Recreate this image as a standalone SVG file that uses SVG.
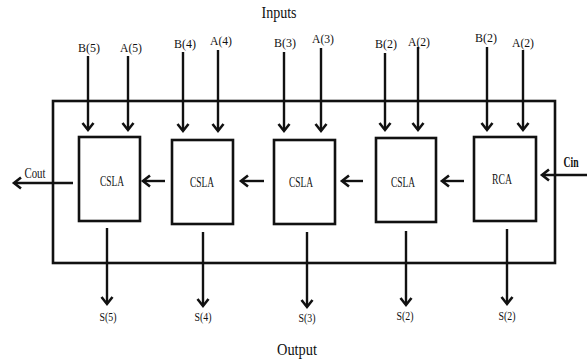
<svg xmlns="http://www.w3.org/2000/svg" width="587" height="362" viewBox="0 0 587 362">
<style>
text{font-family:"Liberation Serif","Times New Roman",serif;fill:#111;text-anchor:middle}
.lbl{font-size:13px}
.blk{font-size:14px}
.out{font-size:12px}
.ttl{font-size:16px}
.box{fill:#fff;stroke:#111;stroke-width:2.6}
.arr{stroke:#111;stroke-width:2.4;fill:none;marker-end:url(#ah)}
</style>
<defs>
<marker id="ah" markerUnits="userSpaceOnUse" viewBox="-10 -8 12 16" refX="0" refY="0" markerWidth="12" markerHeight="16" orient="auto" overflow="visible">
<path d="M-7,-5.5 L0,0 L-7,5.5" fill="none" stroke="#111" stroke-width="2.6"/>
</marker>
</defs>
<rect width="587" height="362" fill="#fff"/>
<text class="ttl" x="279" y="18" textLength="35" lengthAdjust="spacingAndGlyphs">Inputs</text>
<text class="ttl" x="297" y="355" textLength="40" lengthAdjust="spacingAndGlyphs">Output</text>
<g id="frame"><rect x="53" y="101" width="502" height="162" fill="none" stroke="#111" stroke-width="2.6"/></g>
<g id="connectors">
<line class="arr" x1="88" y1="56" x2="88" y2="130"/>
<line class="arr" x1="128" y1="56" x2="128" y2="130"/>
<line class="arr" x1="183" y1="52" x2="183" y2="131"/>
<line class="arr" x1="218" y1="50" x2="218" y2="131"/>
<line class="arr" x1="284" y1="52" x2="284" y2="131"/>
<line class="arr" x1="321" y1="48" x2="321" y2="131"/>
<line class="arr" x1="385" y1="53" x2="385" y2="130"/>
<line class="arr" x1="418" y1="47" x2="418" y2="130"/>
<line class="arr" x1="487" y1="47" x2="487" y2="130"/>
<line class="arr" x1="523" y1="50" x2="523" y2="130"/>
<line class="arr" x1="587" y1="175" x2="542" y2="175"/>
<line class="arr" x1="464" y1="181" x2="442" y2="181"/>
<line class="arr" x1="363" y1="181" x2="342" y2="181"/>
<line class="arr" x1="264" y1="181" x2="241" y2="181"/>
<line class="arr" x1="165" y1="181" x2="143" y2="181"/>
<line class="arr" x1="73" y1="183" x2="14" y2="183"/>
<line class="arr" x1="107" y1="228" x2="107" y2="304"/>
<line class="arr" x1="203" y1="232" x2="203" y2="306"/>
<line class="arr" x1="307" y1="232" x2="307" y2="307"/>
<line class="arr" x1="406" y1="231" x2="406" y2="305"/>
<line class="arr" x1="507" y1="229" x2="507" y2="304"/>
</g>
<g id="labels-in">
<text class="lbl" x="89" y="52" textLength="22" lengthAdjust="spacingAndGlyphs">B(5)</text>
<text class="lbl" x="131" y="52" textLength="22" lengthAdjust="spacingAndGlyphs">A(5)</text>
<text class="lbl" x="185" y="48" textLength="22" lengthAdjust="spacingAndGlyphs">B(4)</text>
<text class="lbl" x="221" y="45" textLength="22" lengthAdjust="spacingAndGlyphs">A(4)</text>
<text class="lbl" x="285" y="47" textLength="22" lengthAdjust="spacingAndGlyphs">B(3)</text>
<text class="lbl" x="323" y="43" textLength="22" lengthAdjust="spacingAndGlyphs">A(3)</text>
<text class="lbl" x="386" y="48" textLength="22" lengthAdjust="spacingAndGlyphs">B(2)</text>
<text class="lbl" x="419" y="46" textLength="22" lengthAdjust="spacingAndGlyphs">A(2)</text>
<text class="lbl" x="486" y="42" textLength="22" lengthAdjust="spacingAndGlyphs">B(2)</text>
<text class="lbl" x="523" y="47" textLength="22" lengthAdjust="spacingAndGlyphs">A(2)</text>
<text x="35" y="178" style="font-size:14px" textLength="21" lengthAdjust="spacingAndGlyphs">Cout</text>
<text x="571" y="167" style="font-size:15px;font-weight:bold" textLength="15" lengthAdjust="spacingAndGlyphs">Cin</text>
</g>
<g id="csla5"><rect class="box" x="79" y="137" width="61" height="84"/><text class="blk" x="112" y="186" textLength="24" lengthAdjust="spacingAndGlyphs">CSLA</text></g>
<g id="csla4"><rect class="box" x="172" y="140" width="61" height="84"/><text class="blk" x="202" y="187" textLength="24" lengthAdjust="spacingAndGlyphs">CSLA</text></g>
<g id="csla3"><rect class="box" x="274" y="140" width="61" height="84"/><text class="blk" x="301" y="187" textLength="24" lengthAdjust="spacingAndGlyphs">CSLA</text></g>
<g id="csla2"><rect class="box" x="376" y="138" width="60" height="84"/><text class="blk" x="403" y="187" textLength="24" lengthAdjust="spacingAndGlyphs">CSLA</text></g>
<g id="rca"><rect class="box" x="474" y="137" width="62" height="84"/><text class="blk" x="502" y="184" textLength="20" lengthAdjust="spacingAndGlyphs">RCA</text></g>
<g id="labels-out">
<text class="out" x="108" y="321" textLength="17" lengthAdjust="spacingAndGlyphs">S(5)</text>
<text class="out" x="203" y="321" textLength="17" lengthAdjust="spacingAndGlyphs">S(4)</text>
<text class="out" x="307" y="322" textLength="17" lengthAdjust="spacingAndGlyphs">S(3)</text>
<text class="out" x="405" y="320" textLength="17" lengthAdjust="spacingAndGlyphs">S(2)</text>
<text class="out" x="507" y="320" textLength="17" lengthAdjust="spacingAndGlyphs">S(2)</text>
</g>
</svg>
